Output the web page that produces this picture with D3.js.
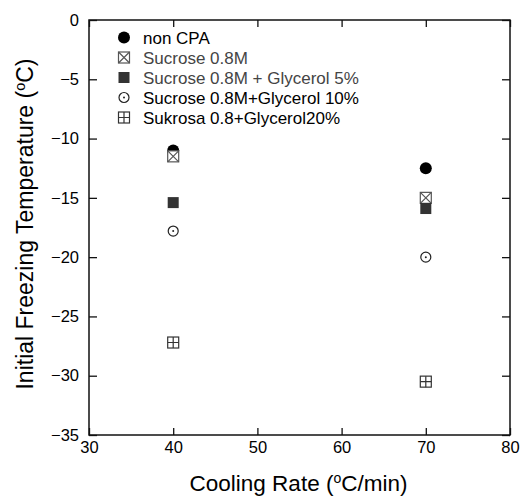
<!DOCTYPE html>
<html>
<head>
<meta charset="utf-8">
<script src="https://cdn.jsdelivr.net/npm/d3@7"></script>
<style>
  body { margin: 0; background: #fff; }
  text { font-family: "Liberation Sans", Arial, sans-serif; }
</style>
</head>
<body>
<div class="chart"></div>
<script>
const width = 524;
const height = 497;
const margin = { top: 20, right: 14, bottom: 62, left: 89 };

// data
const coolingRates = [40, 70];
const nonCPA = [-11, -12.5];
const sucrose = [-11.5, -15];
const sucroseGly5 = [-15.4, -15.9];
const sucroseGly10 = [-17.8, -20];
const sukrosaGly20 = [-27.2, -30.5];
const seriesNames = [
  "non CPA",
  "Sucrose 0.8M",
  "Sucrose 0.8M + Glycerol 5%",
  "Sucrose 0.8M+Glycerol 10%",
  "Sukrosa 0.8+Glycerol20%"
];
const xTicks = [30, 40, 50, 60, 70, 80];
const yTicks = [0, -5, -10, -15, -20, -25, -30, -35];

const series = [
  { name: seriesNames[0], values: nonCPA, marker: "dot", textColor: "#000" },
  { name: seriesNames[1], values: sucrose, marker: "xsquare", textColor: "#444" },
  { name: seriesNames[2], values: sucroseGly5, marker: "square", textColor: "#444" },
  { name: seriesNames[3], values: sucroseGly10, marker: "ocircle", textColor: "#000" },
  { name: seriesNames[4], values: sukrosaGly20, marker: "grid", textColor: "#000" }
];

const innerW = width - margin.left - margin.right;
const innerH = height - margin.top - margin.bottom;

const x = d3.scaleLinear().domain([30, 80]).range([0, innerW]);
const y = d3.scaleLinear().domain([-35, 0]).range([innerH, 0]);

const svg = d3.select(".chart")
  .append("svg")
  .attr("width", width)
  .attr("height", height);

const g = svg.append("g")
  .attr("transform", "translate(" + margin.left + "," + margin.top + ")");

// frame
g.append("rect")
  .attr("width", innerW)
  .attr("height", innerH)
  .attr("fill", "none")
  .attr("stroke", "#111")
  .attr("stroke-width", 1.5);

function styleAxis(sel, showLabels) {
  sel.select(".domain").remove();
  sel.selectAll(".tick line").attr("stroke", "#111").attr("stroke-width", 1.3);
  sel.selectAll(".tick text")
    .attr("fill", "#000")
    .style("font-size", "16.5px")
    .style("display", showLabels ? null : "none");
}

g.append("g")
  .attr("transform", "translate(0," + innerH + ")")
  .call(d3.axisBottom(x).tickValues(xTicks).tickSizeInner(-7).tickSizeOuter(0).tickPadding(6))
  .call(s => styleAxis(s, true));

g.append("g")
  .call(d3.axisTop(x).tickValues(xTicks).tickSizeInner(-7).tickSizeOuter(0))
  .call(s => styleAxis(s, false));

g.append("g")
  .call(d3.axisLeft(y).tickValues(yTicks).tickSizeInner(-8).tickSizeOuter(0).tickPadding(10))
  .call(s => styleAxis(s, true));

g.append("g")
  .attr("transform", "translate(" + innerW + ",0)")
  .call(d3.axisRight(y).tickValues(yTicks).tickSizeInner(-8).tickSizeOuter(0))
  .call(s => styleAxis(s, false));

// markers
function drawMarker(sel, type) {
  const h = 5.5;
  if (type === "dot") {
    sel.append("circle").attr("r", 6).attr("fill", "#000");
  } else if (type === "xsquare") {
    sel.append("rect").attr("x", -h).attr("y", -h).attr("width", 2 * h).attr("height", 2 * h)
      .attr("fill", "#fff").attr("stroke", "#555").attr("stroke-width", 1.2);
    sel.append("path").attr("d", `M${-h},${-h}L${h},${h}M${h},${-h}L${-h},${h}`)
      .attr("stroke", "#555").attr("stroke-width", 1.2);
  } else if (type === "square") {
    sel.append("rect").attr("x", -h).attr("y", -h).attr("width", 2 * h).attr("height", 2 * h)
      .attr("fill", "#333");
  } else if (type === "ocircle") {
    sel.append("circle").attr("r", 5).attr("fill", "#fff").attr("stroke", "#222").attr("stroke-width", 1.2);
    sel.append("circle").attr("r", 1).attr("fill", "#222");
  } else if (type === "grid") {
    sel.append("rect").attr("x", -h).attr("y", -h).attr("width", 2 * h).attr("height", 2 * h)
      .attr("fill", "#fff").attr("stroke", "#333").attr("stroke-width", 1.2);
    sel.append("path").attr("d", `M0,${-h}L0,${h}M${-h},0L${h},0`)
      .attr("stroke", "#333").attr("stroke-width", 1.2);
  }
}

series.forEach(s => {
  s.values.forEach((v, i) => {
    const m = g.append("g")
      .attr("transform", "translate(" + x(coolingRates[i]) + "," + y(v) + ")");
    drawMarker(m, s.marker);
  });
});

// legend
const legend = g.append("g").attr("transform", "translate(35,17.5)");
series.forEach((s, i) => {
  const row = legend.append("g").attr("transform", "translate(0," + i * 20 + ")");
  drawMarker(row, s.marker);
  row.append("text")
    .attr("x", 19)
    .attr("y", 6)
    .attr("fill", s.textColor)
    .style("font-size", "17px")
    .text(s.name);
});

// axis titles
const xTitle = svg.append("text")
  .attr("x", margin.left + innerW / 2 - 1)
  .attr("y", height - 6)
  .attr("text-anchor", "middle")
  .style("font-size", "22.5px");
xTitle.append("tspan").text("Cooling Rate (");
xTitle.append("tspan").attr("dy", -8).style("font-size", "14px").text("o");
xTitle.append("tspan").attr("dy", 8).text("C/min)");

const yTitle = svg.append("text")
  .attr("transform", "translate(33,224) rotate(-90)")
  .attr("text-anchor", "middle")
  .style("font-size", "23px");
yTitle.append("tspan").text("Initial Freezing Temperature (");
yTitle.append("tspan").attr("dy", -8).style("font-size", "14.5px").text("o");
yTitle.append("tspan").attr("dy", 8).text("C)");
</script>
</body>
</html>
